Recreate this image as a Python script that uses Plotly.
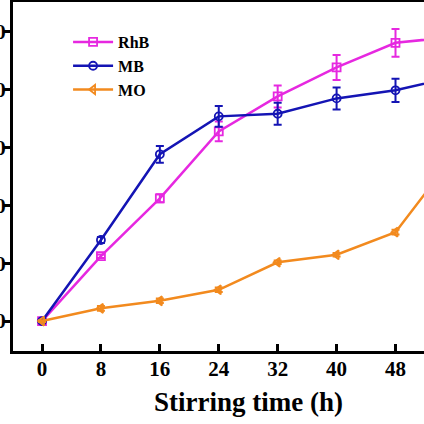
import plotly.graph_objects as go

time_h = [0, 8, 16, 24, 32, 40, 48, 56]
rhb = [0, 22.4, 42.4, 65.5, 77.6, 87.6, 96.1, 98.2]
rhb_err = [0.4, 0.6, 1.4, 3.4, 3.8, 4.3, 4.8, 4.0]
mb = [0, 28.0, 57.6, 70.7, 71.6, 76.9, 79.7, 84.4]
mb_err = [0.5, 1.0, 2.9, 3.6, 3.8, 3.8, 4.0, 4.0]
mo = [0, 4.4, 7.0, 10.8, 20.3, 22.9, 30.7, 57.2]
mo_err = [0.3, 0.8, 0.8, 0.8, 0.6, 0.6, 0.8, 1.5]
x_ticks = [0, 8, 16, 24, 32, 40, 48, 56]
y_ticks = [0, 20, 40, 60, 80, 100]

series = [
    ("RhB", rhb, rhb_err, "#E628E0", "square-open"),
    ("MB", mb, mb_err, "#1414B4", "circle-open"),
    ("MO", mo, mo_err, "#F28A1E", "triangle-left-open"),
]

FONT = "Liberation Serif"
fig = go.Figure()
for name, vals, err, color, sym in series:
    fig.add_trace(go.Scatter(
        x=time_h, y=vals, name=name, mode="lines+markers",
        line=dict(color=color, width=2.5),
        marker=dict(symbol=sym, size=8, color=color, line=dict(color=color, width=1.8)),
        error_y=dict(type="data", array=err, visible=True, color=color, thickness=2, width=4),
    ))

fig.update_layout(
    width=424, height=424,
    margin=dict(l=13, r=0, t=2, b=73, autoexpand=False),
    paper_bgcolor="white", plot_bgcolor="white",
    font=dict(family=FONT, color="black"),
    showlegend=True,
    legend=dict(x=0.134, y=0.934, xanchor="left", yanchor="top",
                font=dict(family=FONT, size=16, color="black", weight="bold"),
                bgcolor="rgba(0,0,0,0)", tracegroupgap=0, itemwidth=40),
    xaxis=dict(range=[-3.94, 51.87], tickvals=x_ticks, ticks="inside", ticklen=7, tickwidth=2.5,
               tickcolor="black", showline=True, linecolor="black", linewidth=3, mirror=True,
               showgrid=False, zeroline=False, automargin=False, ticklabelstandoff=-3,
               tickfont=dict(family=FONT, size=21, color="black", weight="bold")),
    yaxis=dict(range=[-10.34, 110.2], tickvals=y_ticks, ticks="outside", ticklen=6, tickwidth=2.5,
               tickcolor="black", showline=True, linecolor="black", linewidth=3, mirror=False,
               showgrid=False, zeroline=False, automargin=False, ticklabelstandoff=-6,
               tickfont=dict(family=FONT, size=21, color="black", weight="bold")),
    annotations=[dict(text="<b>Stirring time (h)</b>", xref="paper", yref="paper",
                      x=0.572, y=-0.146, xanchor="center", yanchor="middle", showarrow=False,
                      font=dict(family=FONT, size=27, color="black"))],
)
fig.write_html("out.html", config={"displayModeBar": False},
               post_script="document.body.style.margin='0';")
